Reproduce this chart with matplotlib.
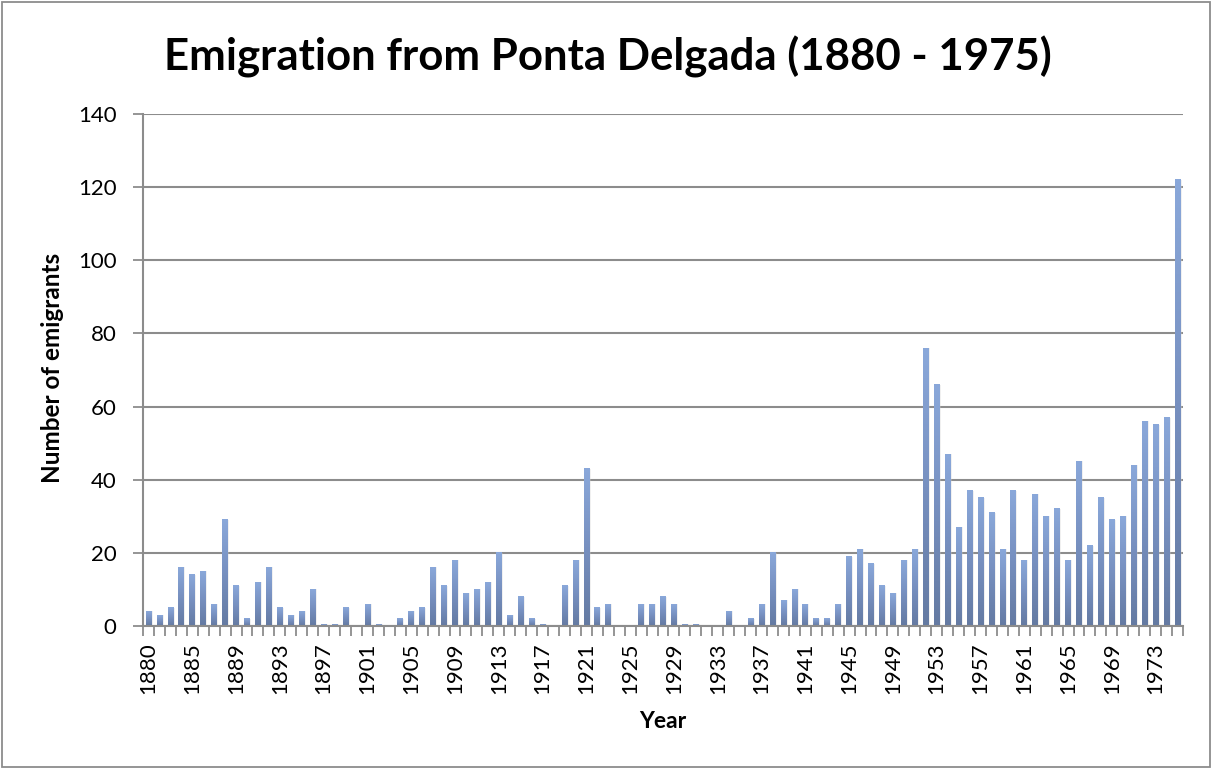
import matplotlib
matplotlib.use("Agg")
import matplotlib.pyplot as plt
import numpy as np
from matplotlib.patches import Rectangle
from matplotlib.colors import LinearSegmentedColormap

# Category years (one year between 1880 and 1885 is absent from the record)
years = [1880, 1881, 1882, 1883] + list(range(1885, 1976))

emigrants = [
    4, 3, 5, 16,
    14, 15, 6, 29, 11, 2, 12, 16, 5, 3,
    4, 10, 0.5, 0.5, 5, 0, 6, 0.5, 0, 2,
    4, 5, 16, 11, 18, 9, 10, 12, 20, 3,
    8, 2, 0.5, 0, 11, 18, 43, 5, 6, 0,
    0, 6, 6, 8, 6, 0.5, 0.5, 0, 0, 4,
    0, 2, 6, 20, 7, 10, 6, 2, 2, 6,
    19, 21, 17, 11, 9, 18, 21, 76, 66, 47,
    27, 37, 35, 31, 21, 37, 18, 36, 30, 32,
    18, 45, 22, 35, 29, 30, 44, 56, 55, 57, 122,
]

y_ticks = [0, 20, 40, 60, 80, 100, 120, 140]
label_step = 4

title_text = "Emigration from Ponta Delgada (1880 - 1975)"
x_title = "Year"
y_title = "Number of emigrants"

plt.rcParams['font.family'] = ['Lato', 'DejaVu Sans']

W, H = 1213, 769
fig = plt.figure(figsize=(W / 100, H / 100), dpi=100)
fig.patch.set_facecolor("white")

# thin frame round the whole chart
fig.add_artist(Rectangle((0.0015, 0.002), 0.996, 0.995, transform=fig.transFigure,
                         fill=False, edgecolor="#8c8c8c", linewidth=1.3))

ax = fig.add_axes([143 / W, 1 - 626 / H, 1040 / W, 512 / H])

grey = "#8c8c8c"
x = np.arange(len(years))
bw = 0.52

# soft shadow to the right of each bar
ax.bar(x + 0.12, emigrants, width=bw, color="#d0d0d0", alpha=0.3,
       linewidth=0, zorder=1.5)
bars = ax.bar(x, emigrants, width=bw, color="#7b96c8", linewidth=0, zorder=2)

# vertical gradient fill inside every bar
cmap = LinearSegmentedColormap.from_list("barfade", ["#647aa2", "#7790c0", "#8aa8da"])
grad = np.linspace(0, 1, 128).reshape(-1, 1)
for p in bars:
    h = p.get_height()
    if h <= 0:
        continue
    x0 = p.get_x()
    ax.imshow(grad, cmap=cmap, origin="lower", aspect="auto",
              extent=(x0, x0 + p.get_width(), 0, h),
              interpolation="bicubic", zorder=2.1)

ax.set_xlim(-0.5, len(years) - 0.5)
ax.set_ylim(0, 140)

# axes styling
for side in ("top", "right"):
    ax.spines[side].set_visible(False)
for side in ("left", "bottom"):
    ax.spines[side].set_color(grey)
    ax.spines[side].set_linewidth(1.5)
    ax.spines[side].set_zorder(3)

ax.set_yticks(y_ticks)
ax.set_yticklabels([str(v) for v in y_ticks])
ax.yaxis.grid(True, color=grey, linewidth=1.5, zorder=1)
ax.set_axisbelow(True)
ax.tick_params(axis="y", which="major", length=7, width=1.3, color=grey,
               labelsize=16, pad=12, labelcolor="black")

# boundary ticks between categories, labels centred on every fourth category
ax.set_xticks(np.arange(-0.5, len(years), 1.0))
ax.set_xticklabels([])
ax.tick_params(axis="x", which="major", length=7, width=1.3, color=grey)
lab_pos = x[::label_step]
ax.set_xticks(lab_pos, minor=True)
ax.set_xticklabels([str(years[i]) for i in lab_pos], minor=True, rotation=90)
ax.tick_params(axis="x", which="minor", length=0, labelsize=16, pad=12,
               labelcolor="black")

fig.text(608 / W, 1 - 57 / H, title_text, ha="center", va="center",
         fontsize=31.5, fontweight="bold")
fig.text(663 / W, 1 - 721 / H, x_title, ha="center", va="center",
         fontsize=16.5, fontweight="bold")
fig.text(53 / W, 1 - 368 / H, y_title, ha="center", va="center",
         rotation=90, fontsize=17.5, fontweight="bold")

fig.savefig("out.png", dpi=100)
